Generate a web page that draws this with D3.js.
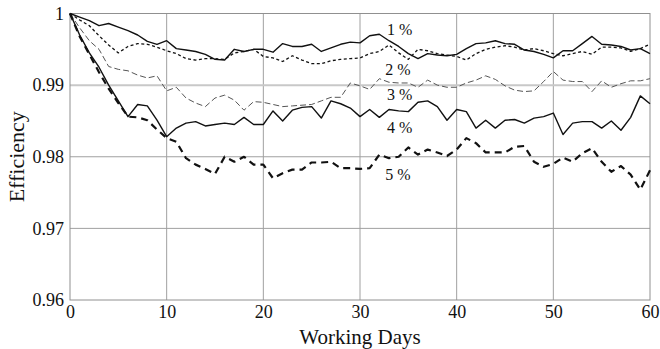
<!DOCTYPE html>
<html>
<head>
<meta charset="utf-8">
<script src="https://cdn.jsdelivr.net/npm/d3@7"></script>
<style>
  html, body { margin: 0; padding: 0; background: #fff; }
  svg { display: block; }
  svg text { font-family: "Liberation Serif", "Times New Roman", Times, "DejaVu Serif", serif; }
</style>
</head>
<body>
<div id="chart"></div>
<script>
// working days 0..60, one efficiency reading per day
const days = d3.range(0, 61)

const eff1 = [1.0, 0.9995, 0.999, 0.9983, 0.9986, 0.9981, 0.9976, 0.997, 0.9961, 0.9957,
  0.9962, 0.9951, 0.9949, 0.9947, 0.9943, 0.9936, 0.9935, 0.995, 0.9947, 0.995,
  0.995, 0.9946, 0.9958, 0.9954, 0.9954, 0.9957, 0.9947, 0.9952, 0.9957, 0.996,
  0.9959, 0.9969, 0.9971, 0.9962, 0.9954, 0.9944, 0.9937, 0.9944, 0.9942, 0.9941,
  0.9943, 0.9951, 0.9958, 0.9959, 0.9962, 0.9958, 0.9957, 0.9949, 0.9947, 0.9943,
  0.9938, 0.9948, 0.9948, 0.9958, 0.9968, 0.9957, 0.9956, 0.9954, 0.9949, 0.9951,
  0.9944]

const eff2 = [1.0, 0.9991, 0.9983, 0.9969, 0.9956, 0.9945, 0.9954, 0.9958, 0.9957, 0.9953,
  0.9948, 0.9944, 0.9937, 0.9935, 0.9937, 0.9937, 0.9936, 0.9945, 0.9947, 0.995,
  0.994, 0.9938, 0.9933, 0.9941, 0.9935, 0.993, 0.993, 0.9934, 0.9936, 0.9937,
  0.9938, 0.9944, 0.9947, 0.9956, 0.9945, 0.9936, 0.995, 0.9948, 0.9944, 0.9942,
  0.994, 0.9935, 0.9944, 0.995, 0.9953, 0.9955, 0.9953, 0.9949, 0.9951, 0.9948,
  0.9944, 0.9941, 0.9944, 0.9947, 0.9943, 0.9953, 0.9953, 0.9952, 0.9947, 0.9951,
  0.9957]

const eff3 = [1.0, 0.998, 0.9962, 0.995, 0.9926, 0.9922, 0.992, 0.9914, 0.991, 0.9913,
  0.9892, 0.9897, 0.9882, 0.9875, 0.987, 0.9882, 0.9886, 0.9879, 0.9865, 0.9877,
  0.9876, 0.9873, 0.987, 0.9871, 0.9872, 0.9873, 0.9878, 0.9883, 0.9883, 0.9903,
  0.9899, 0.9894, 0.9909, 0.9904, 0.9903, 0.9903, 0.9897, 0.9907, 0.99, 0.9897,
  0.9897, 0.9903, 0.9907, 0.9913, 0.9908, 0.9899, 0.9893, 0.9891, 0.9892, 0.9905,
  0.9919, 0.9907, 0.9905, 0.9905, 0.9891, 0.9906, 0.9897, 0.9902, 0.9906, 0.9906,
  0.9909]

const eff4 = [1.0, 0.997, 0.9945, 0.9925, 0.99, 0.9878, 0.9856, 0.9873, 0.9871, 0.9851,
  0.9828, 0.984, 0.9847, 0.9849, 0.9843, 0.9845, 0.9847, 0.9845, 0.9855, 0.9845,
  0.9845, 0.9864, 0.985, 0.9865, 0.9869, 0.987, 0.9854, 0.9878, 0.9874, 0.9868,
  0.9856, 0.9866, 0.9855, 0.9866, 0.9864, 0.9863, 0.9876, 0.9878, 0.987, 0.9851,
  0.9866, 0.9863, 0.984, 0.9851, 0.984, 0.9851, 0.9852, 0.9847, 0.9854, 0.9856,
  0.9861, 0.9831, 0.9847, 0.9849, 0.9849, 0.984, 0.985, 0.9837, 0.9855, 0.9885,
  0.9874]

const eff5 = [1.0, 0.9968, 0.9943, 0.9918, 0.9895, 0.9875, 0.9856, 0.9855, 0.9851, 0.9838,
  0.9826, 0.9821, 0.9798, 0.9789, 0.9783, 0.9776, 0.98, 0.9793, 0.98, 0.9789,
  0.9789, 0.977, 0.9777, 0.9782, 0.9782, 0.9792, 0.9792, 0.9793, 0.9784, 0.9784,
  0.9783, 0.9784, 0.9803, 0.9798, 0.98, 0.9813, 0.9803, 0.981, 0.9806, 0.9801,
  0.981, 0.9826, 0.9819, 0.9806, 0.9806, 0.9806, 0.9814, 0.9815, 0.9793, 0.9786,
  0.979, 0.9799, 0.9793, 0.9805, 0.9812, 0.9793, 0.9779, 0.9787, 0.9775, 0.9754,
  0.9781]

const seriesLabels = ['1 %', '2 %', '3 %', '4 %', '5 %']
const labelDay = [32.8, 32.6, 32.8, 32.8, 32.6]
const labelValue = [0.997, 0.9914, 0.9879, 0.9833, 0.9768]

const xTicks = [0, 10, 20, 30, 40, 50, 60]
const yTicks = [0.96, 0.97, 0.98, 0.99, 1]

const width = 660
const height = 349
const margin = { top: 13.5, right: 10, bottom: 49, left: 70 }

const svg = d3.select('#chart')
  .append('svg')
  .attr('width', width)
  .attr('height', height)

const x = d3.scaleLinear().domain([0, 60]).range([margin.left, width - margin.right])
const y = d3.scaleLinear().domain([0.96, 1]).range([height - margin.bottom, margin.top])

// grid
const grid = svg.append('g')
grid.selectAll('line.vx')
  .data(xTicks.slice(1, -1))
  .join('line')
  .attr('x1', (d) => x(d)).attr('x2', (d) => x(d))
  .attr('y1', y(0.96)).attr('y2', y(1))
  .attr('stroke', '#a0a0a0')
  .attr('stroke-width', 1)

grid.selectAll('line.hy')
  .data(yTicks.slice(1, -1))
  .join('line')
  .attr('x1', x(0)).attr('x2', x(60))
  .attr('y1', (d) => y(d)).attr('y2', (d) => y(d))
  .attr('stroke', (d) => (d === 0.99 ? '#c8c8c8' : '#a0a0a0'))
  .attr('stroke-width', (d) => (d === 0.99 ? 2 : 1))

// frame
svg.append('rect')
  .attr('x', x(0)).attr('y', y(1))
  .attr('width', x(60) - x(0)).attr('height', y(0.96) - y(1))
  .attr('fill', 'none')
  .attr('stroke', '#909090')
  .attr('stroke-width', 1)

// tick labels via d3 axes, tick lines and domain removed
const xAxis = svg.append('g')
  .attr('transform', `translate(0,${y(0.96)})`)
  .call(d3.axisBottom(x).tickValues(xTicks).tickSize(0).tickPadding(5).tickFormat(d3.format('d')))
xAxis.attr('font-family', null)
xAxis.select('.domain').remove()
xAxis.selectAll('text')
  .attr('font-size', 18)
  .attr('fill', '#111')

const yAxis = svg.append('g')
  .attr('transform', `translate(${x(0)},0)`)
  .call(d3.axisLeft(y).tickValues(yTicks).tickSize(0).tickPadding(6).tickFormat((d) => (d === 1 ? '1' : d3.format('.2f')(d))))
yAxis.attr('font-family', null)
yAxis.select('.domain').remove()
yAxis.selectAll('text')
  .attr('font-size', 18)
  .attr('fill', '#111')

svg.append('text')
  .attr('x', (x(0) + x(60)) / 2)
  .attr('y', height - 5)
  .attr('text-anchor', 'middle')
  .attr('font-size', 21)
  .attr('fill', '#111')
  .text('Working Days')

svg.append('text')
  .attr('transform', `translate(24,${(y(0.96) + y(1)) / 2}) rotate(-90)`)
  .attr('text-anchor', 'middle')
  .attr('font-size', 22)
  .attr('fill', '#111')
  .text('Efficiency')

// series
const series = [
  { values: eff3, stroke: '#555', width: 1, dash: '6,3' },
  { values: eff2, stroke: '#111', width: 1.3, dash: '3,2.5' },
  { values: eff1, stroke: '#111', width: 1.4, dash: null },
  { values: eff4, stroke: '#111', width: 1.4, dash: null },
  { values: eff5, stroke: '#111', width: 2.2, dash: '7,5' },
]

const line = d3.line()
  .x((d, i) => x(days[i]))
  .y((d) => y(d))

svg.append('g')
  .selectAll('path')
  .data(series)
  .join('path')
  .attr('d', (d) => line(d.values))
  .attr('fill', 'none')
  .attr('stroke', (d) => d.stroke)
  .attr('stroke-width', (d) => d.width)
  .attr('stroke-dasharray', (d) => d.dash)
  .attr('stroke-linejoin', 'round')

svg.append('g')
  .selectAll('text')
  .data(seriesLabels)
  .join('text')
  .attr('x', (d, i) => x(labelDay[i]))
  .attr('y', (d, i) => y(labelValue[i]))
  .attr('font-size', 16)
  .attr('fill', '#111')
  .text((d) => d)
</script>
</body>
</html>
